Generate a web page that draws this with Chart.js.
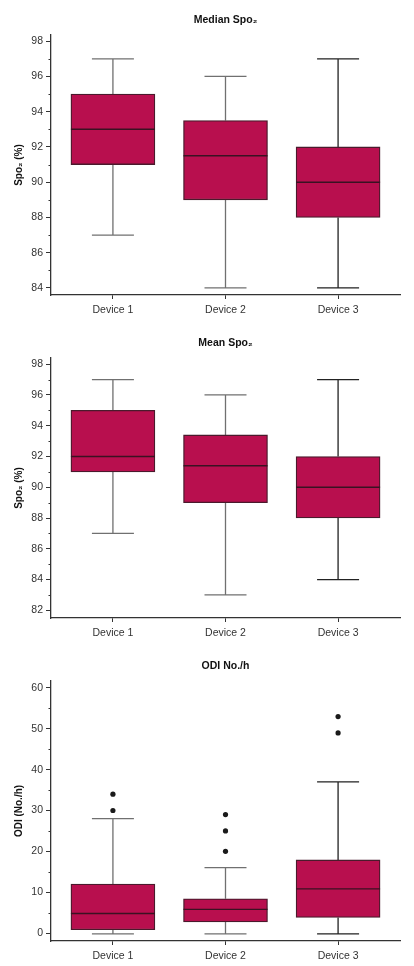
<!DOCTYPE html>
<html>
<head>
<meta charset="utf-8">
<script src="https://cdn.jsdelivr.net/npm/chart.js@4/dist/chart.umd.min.js"></script>
<style>
  body { margin: 0; background: #fff; }
  .panel { position: absolute; left: 0; width: 414px; height: 320px; }
</style>
</head>
<body>
<div class="panel" style="top:0"><canvas id="medianChart" width="414" height="320"></canvas></div>
<div class="panel" style="top:323px"><canvas id="meanChart" width="414" height="320"></canvas></div>
<div class="panel" style="top:646px"><canvas id="odiChart" width="414" height="320"></canvas></div>
<script>
// ─── DATA ───
const categories = ['Device 1', 'Device 2', 'Device 3'];

// Median SpO2
const medianMin = [87, 84, 84];
const medianQ1 = [91, 89, 88];
const medianMed = [93, 91.5, 90];
const medianQ3 = [95, 93.5, 92];
const medianMax = [97, 96, 97];
const medianTicks = [84, 86, 88, 90, 92, 94, 96, 98];

// Mean SpO2
const meanMin = [87, 83, 84];
const meanQ1 = [91, 89, 88];
const meanMed = [92, 91.4, 90];
const meanQ3 = [95, 93.4, 92];
const meanMax = [97, 96, 97];
const meanTicks = [82, 84, 86, 88, 90, 92, 94, 96, 98];

// ODI No./h
const odiMin = [-0.2, -0.2, -0.2];
const odiQ1 = [0.8, 2.7, 3.8];
const odiMed = [4.8, 5.8, 10.8];
const odiQ3 = [12, 8.4, 17.9];
const odiMax = [28, 16, 37];
const odiOutliers = [[30, 34], [20, 25, 29], [49, 53]];
const odiTicks = [0, 10, 20, 30, 40, 50, 60];

// ─── STYLE ───
const FONT = "'Liberation Sans', Arial, sans-serif";
const INK = '#333';
const BOX_FILL = '#B80F4E';
const BOX_EDGE = '#4a1a2c';
const whiskerColors = ['#707070', '#707070', '#222'];

function makeBoxChart(id, o) {
    const ctx = document.getElementById(id).getContext('2d');
    const outlierPts = [];
    (o.outliers || []).forEach((arr, i) => arr.forEach(v => outlierPts.push({ x: i + 1, y: v })));

    const boxPlugin = {
        id: 'boxParts',
        beforeDatasetsDraw(chart) {
            const xs = chart.scales.x, ys = chart.scales.y, c = chart.ctx;
            c.save();
            c.lineWidth = 1.3;
            categories.forEach((cat, i) => {
                const x = xs.getPixelForValue(i + 1);
                const cap = 21;
                c.strokeStyle = whiskerColors[i];
                c.beginPath();
                c.moveTo(x, ys.getPixelForValue(o.max[i]));
                c.lineTo(x, ys.getPixelForValue(o.q3[i]));
                c.moveTo(x, ys.getPixelForValue(o.q1[i]));
                c.lineTo(x, ys.getPixelForValue(o.min[i]));
                c.moveTo(x - cap, ys.getPixelForValue(o.max[i]));
                c.lineTo(x + cap, ys.getPixelForValue(o.max[i]));
                c.moveTo(x - cap, ys.getPixelForValue(o.min[i]));
                c.lineTo(x + cap, ys.getPixelForValue(o.min[i]));
                c.stroke();
            });
            c.restore();
        },
        afterDatasetsDraw(chart) {
            const xs = chart.scales.x, ys = chart.scales.y, c = chart.ctx;
            c.save();
            c.lineWidth = 1.4;
            c.strokeStyle = '#3a1222';
            categories.forEach((cat, i) => {
                const x = xs.getPixelForValue(i + 1);
                const y = ys.getPixelForValue(o.med[i]);
                c.beginPath();
                c.moveTo(x - 42, y);
                c.lineTo(x + 42, y);
                c.stroke();
            });
            // minor ticks on the y axis
            c.strokeStyle = INK;
            c.lineWidth = 1;
            const step = (o.ticks[1] - o.ticks[0]) / 2;
            for (let v = o.ticks[0] + step; v < o.ticks[o.ticks.length - 1]; v += 2 * step) {
                const y = Math.round(ys.getPixelForValue(v)) + 0.5;
                c.beginPath();
                c.moveTo(ys.right - 2.5, y);
                c.lineTo(ys.right, y);
                c.stroke();
            }
            c.restore();
        }
    };

    return new Chart(ctx, {
        type: 'bar',
        data: {
            datasets: [{
                data: categories.map((cat, i) => ({ x: i + 1, y: [o.q1[i], o.q3[i]] })),
                backgroundColor: BOX_FILL,
                borderColor: BOX_EDGE,
                borderWidth: 1.3,
                borderSkipped: false,
                barThickness: 84
            }, {
                type: 'scatter',
                data: outlierPts,
                pointRadius: 2.6,
                pointBackgroundColor: '#1a1a1a',
                pointBorderWidth: 0
            }]
        },
        options: {
            responsive: false,
            animation: false,
            devicePixelRatio: 1,
            layout: { padding: { left: 0, right: 14, top: 0, bottom: 0 } },
            plugins: {
                legend: { display: false },
                tooltip: { enabled: false },
                title: {
                    display: true,
                    text: o.title,
                    fullSize: false,
                    color: '#111',
                    font: { family: FONT, size: 10.5, weight: 'bold' },
                    padding: { top: 14, bottom: 8.4 }
                }
            },
            scales: {
                x: {
                    type: 'linear',
                    offset: false,
                    min: 0.45,
                    max: 3.55,
                    afterBuildTicks: axis => { axis.ticks = categories.map((c, i) => ({ value: i + 1 })); },
                    afterFit: axis => { axis.height = 25; },
                    ticks: {
                        color: INK,
                        padding: 5,
                        font: { family: FONT, size: 10.5 },
                        callback: v => categories[v - 1]
                    },
                    grid: { offset: false, drawOnChartArea: false, tickLength: 4, tickColor: INK, tickWidth: 1 },
                    border: { display: true, color: INK, width: 1.3 }
                },
                y: {
                    min: o.yMin,
                    max: o.yMax,
                    afterBuildTicks: axis => { axis.ticks = o.ticks.map(v => ({ value: v })); },
                    afterFit: axis => { axis.width = 51; },
                    ticks: {
                        color: INK,
                        padding: 3,
                        font: { family: FONT, size: 10.5 }
                    },
                    grid: { drawOnChartArea: false, tickLength: 5, tickColor: INK, tickWidth: 1 },
                    border: { display: true, color: INK, width: 1.3 },
                    title: {
                        display: true,
                        text: o.yTitle,
                        color: '#111',
                        font: { family: FONT, size: 10, weight: 'bold' },
                        padding: { top: 13, bottom: 0 }
                    }
                }
            }
        },
        plugins: [boxPlugin]
    });
}

makeBoxChart('medianChart', {
    title: 'Median Spo₂', yTitle: 'Spo₂ (%)', yMin: 83.6, yMax: 98.35, ticks: medianTicks,
    min: medianMin, q1: medianQ1, med: medianMed, q3: medianQ3, max: medianMax
});
makeBoxChart('meanChart', {
    title: 'Mean Spo₂', yTitle: 'Spo₂ (%)', yMin: 81.5, yMax: 98.4, ticks: meanTicks,
    min: meanMin, q1: meanQ1, med: meanMed, q3: meanQ3, max: meanMax
});
makeBoxChart('odiChart', {
    title: 'ODI No./h', yTitle: 'ODI (No./h)', yMin: -1.95, yMax: 61.7, ticks: odiTicks,
    min: odiMin, q1: odiQ1, med: odiMed, q3: odiQ3, max: odiMax, outliers: odiOutliers
});
</script>
</body>
</html>
